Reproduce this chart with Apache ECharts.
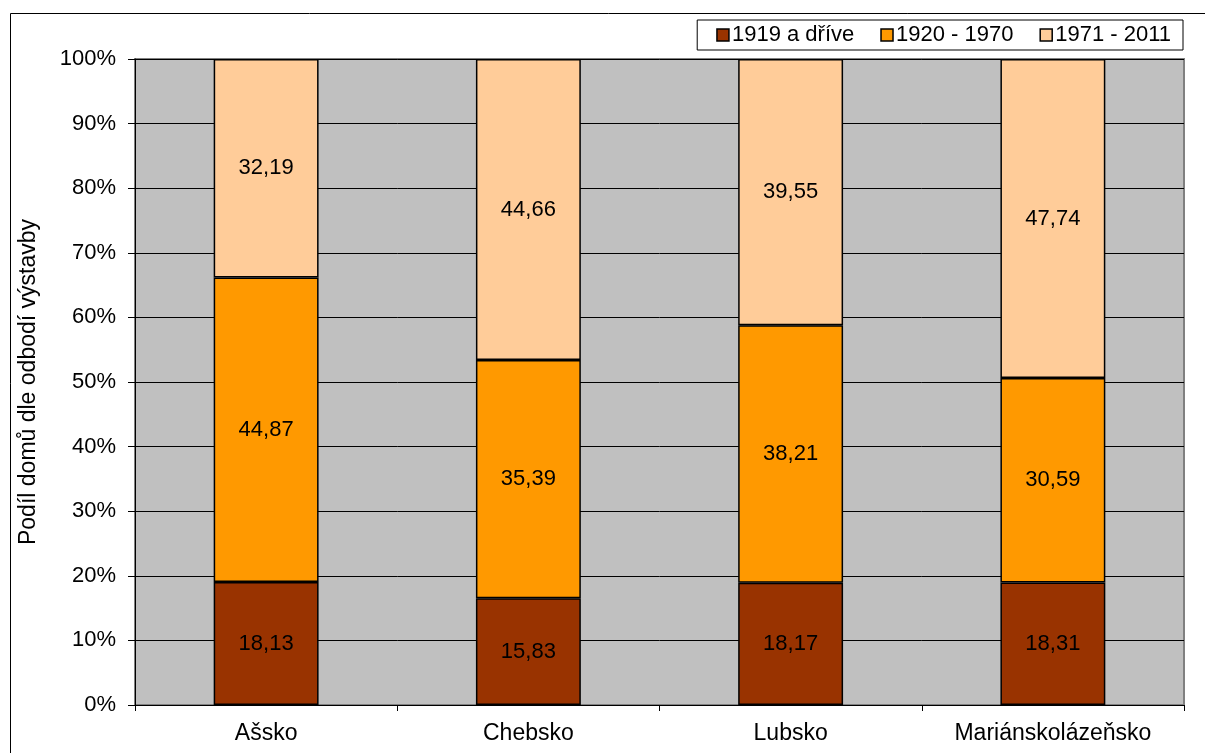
<!DOCTYPE html>
<html>
<head>
<meta charset="utf-8">
<script src="https://cdn.jsdelivr.net/npm/echarts@6/dist/echarts.min.js"></script>
<style>
  html, body { margin: 0; padding: 0; background: #fff; }
  #chart { width: 1205px; height: 753px; }
</style>
</head>
<body>
<div id="chart"></div>
<script>
  // data
  var regions = ['Ašsko', 'Chebsko', 'Lubsko', 'Mariánskolázeňsko'];
  var seriesNames = ['1919 a dříve', '1920 - 1970', '1971 - 2011'];
  var old = [18.13, 15.83, 18.17, 18.31];
  var mid = [44.87, 35.39, 38.21, 30.59];
  var recent = [32.19, 44.66, 39.55, 47.74];
  var colors = ['#993300', '#FF9900', '#FFCC99'];

  // 100% stacked: heights are shares of the region total, labels keep raw values
  var raw = [old, mid, recent];
  var totals = regions.map(function (r, i) { return old[i] + mid[i] + recent[i]; });

  var font = 'Arial, "Liberation Sans", sans-serif';
  var chart = echarts.init(document.getElementById('chart'));

  var series = raw.map(function (vals, s) {
    return {
      name: seriesNames[s],
      type: 'bar',
      stack: 'total',
      barCategoryGap: '60%',
      data: vals.map(function (v, i) { return { value: v / totals[i] * 100, raw: v }; }),
      itemStyle: { color: colors[s], borderColor: '#000', borderWidth: 1.5 },
      label: {
        show: true,
        position: 'inside',
        color: '#000',
        fontFamily: font,
        fontSize: 22,
        formatter: function (p) { return p.data.raw.toFixed(2).replace('.', ','); }
      }
    };
  });

  chart.setOption({
    animation: false,
    textStyle: { fontFamily: font },
    graphic: [{
      type: 'rect',
      shape: { x: 10.5, y: 13.5, width: 1300, height: 800 },
      style: { fill: null, stroke: '#000', lineWidth: 1 },
      silent: true
    }],
    legend: {
      data: seriesNames,
      icon: 'rect',
      right: 22,
      top: 20,
      padding: [4, 12, 4, 19],
      itemGap: 26,
      itemWidth: 12,
      itemHeight: 12,
      borderColor: '#000',
      borderWidth: 1,
      backgroundColor: '#fff',
      itemStyle: { borderColor: '#000', borderWidth: 1.5 },
      textStyle: { fontFamily: font, fontSize: 22, color: '#000', padding: [0, 0, 0, -2] }
    },
    grid: {
      left: 135, right: 21, top: 59, bottom: 48,
      show: true,
      backgroundColor: '#C0C0C0',
      borderColor: '#808080',
      borderWidth: 2
    },
    xAxis: {
      type: 'category',
      data: regions,
      axisLine: { lineStyle: { color: '#000', width: 1 } },
      axisTick: { show: true, length: 6, lineStyle: { color: '#000' } },
      axisLabel: { color: '#000', fontSize: 23, fontFamily: font, margin: 17 }
    },
    yAxis: {
      type: 'value',
      min: 0,
      max: 100,
      interval: 10,
      name: 'Podíl domů dle odbodí výstavby',
      nameLocation: 'middle',
      nameGap: 95,
      nameTextStyle: { color: '#000', fontSize: 23, fontFamily: font },
      axisLine: { show: true, lineStyle: { color: '#000', width: 1 } },
      axisTick: { show: true, length: 7, lineStyle: { color: '#000' } },
      axisLabel: { color: '#000', fontSize: 22, fontFamily: font, margin: 19, formatter: '{value}%' },
      splitLine: { lineStyle: { color: '#000', width: 1 } }
    },
    series: series
  });
</script>
</body>
</html>
